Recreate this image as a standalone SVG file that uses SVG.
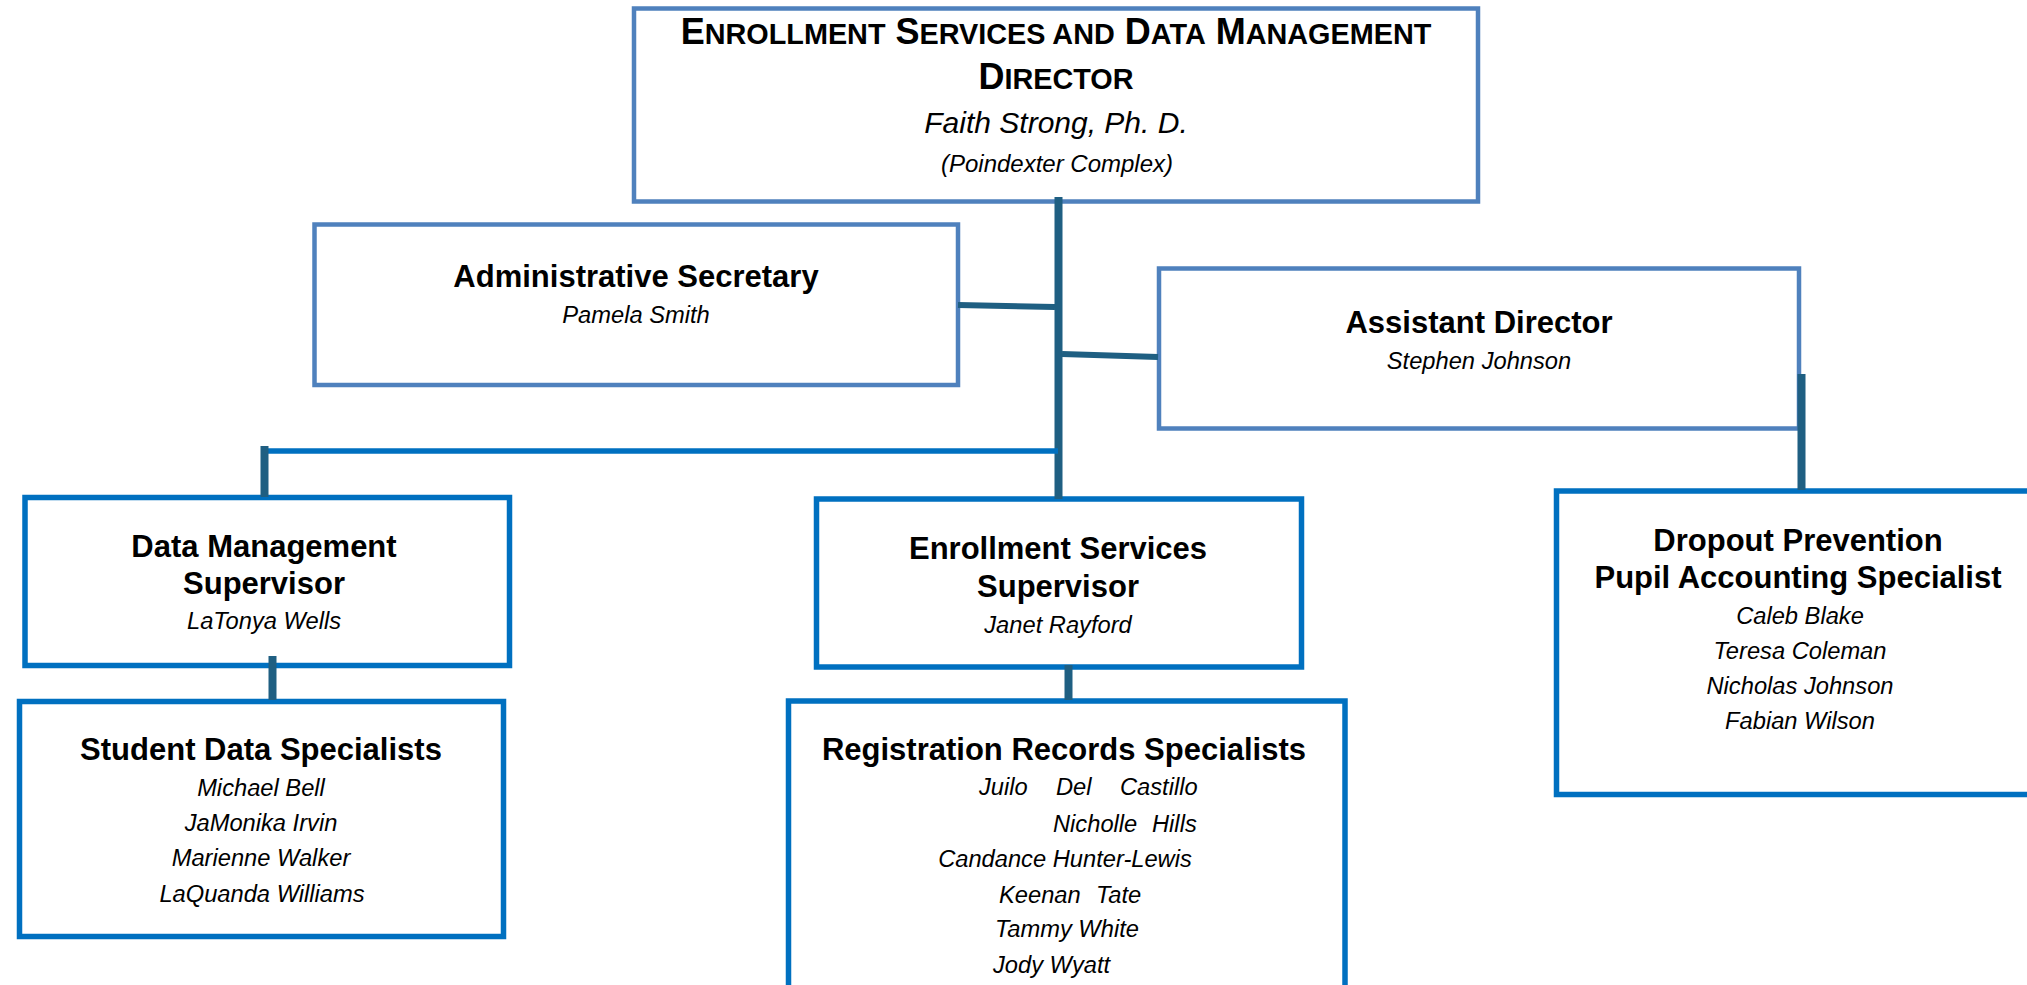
<svg xmlns="http://www.w3.org/2000/svg" width="2027" height="985" viewBox="0 0 2027 985">
<style>
 text{font-family:"Liberation Sans",Arial,sans-serif;fill:#000}
 .m{text-anchor:middle}
 .b{font-weight:bold;font-size:31px}
 .i{font-style:italic;font-size:23.7px}
 .top{fill:#fff;stroke:#4F81BD;stroke-width:4.5}
 .low{fill:#fff;stroke:#0070C0;stroke-width:5.5}
 .c{stroke:#1F5F82;stroke-width:8;fill:none}
 .cs{stroke:#1F5F82;stroke-width:6;fill:none}
 .cb{stroke:#0070C0;stroke-width:5.5;fill:none}
</style>
<rect width="2027" height="985" fill="#fff"/>

<g id="director">
 <rect class="top" x="634" y="8.5" width="844" height="193"/>
 <text class="m" x="1056" y="44" font-weight="bold" font-size="36">E<tspan font-size="28.8">NROLLMENT</tspan> S<tspan font-size="28.8">ERVICES AND</tspan> D<tspan font-size="28.8">ATA</tspan> M<tspan font-size="28.8">ANAGEMENT</tspan></text>
 <text class="m" x="1056" y="89" font-weight="bold" font-size="36">D<tspan font-size="28.8">IRECTOR</tspan></text>
 <text class="m" x="1056" y="132.7" font-style="italic" font-size="30">Faith Strong, Ph. D.</text>
 <text class="m" x="1057" y="171.7" font-style="italic" font-size="24">(Poindexter Complex)</text>
</g>

<g id="admin-secretary">
 <rect class="top" x="314.5" y="224.5" width="643.5" height="160.5"/>
 <text class="m b" x="636" y="287.3">Administrative Secretary</text>
 <text class="m i" x="636" y="323.3">Pamela Smith</text>
</g>

<g id="assistant-director">
 <rect class="top" x="1159" y="268.5" width="640" height="160"/>
 <text class="m b" x="1479" y="332.8">Assistant Director</text>
 <text class="m i" x="1479" y="368.5">Stephen Johnson</text>
</g>

<g id="data-management-supervisor">
 <rect class="low" x="25" y="497.5" width="484.5" height="168"/>
 <text class="m b" x="264" y="556.7">Data Management</text>
 <text class="m b" x="264" y="594">Supervisor</text>
 <text class="m i" x="264" y="629.3">LaTonya Wells</text>
</g>

<g id="enrollment-services-supervisor">
 <rect class="low" x="816.5" y="499" width="485" height="168"/>
 <text class="m b" x="1058" y="559">Enrollment Services</text>
 <text class="m b" x="1058" y="596.7">Supervisor</text>
 <text class="m i" x="1058" y="632.7">Janet Rayford</text>
</g>

<g id="dropout-prevention">
 <rect class="low" x="1556.5" y="491" width="500" height="303.5"/>
 <text class="m b" x="1798" y="551">Dropout Prevention</text>
 <text class="m b" x="1798" y="588.3">Pupil Accounting Specialist</text>
 <text class="m i" x="1800" y="624">Caleb Blake</text>
 <text class="m i" x="1800" y="659.3">Teresa Coleman</text>
 <text class="m i" x="1800" y="694">Nicholas Johnson</text>
 <text class="m i" x="1800" y="729.3">Fabian Wilson</text>
</g>

<g id="student-data-specialists">
 <rect class="low" x="19.5" y="701.5" width="484" height="235"/>
 <text class="m b" x="261" y="760">Student Data Specialists</text>
 <text class="m i" x="261" y="796">Michael Bell</text>
 <text class="m i" x="261" y="830.7">JaMonika Irvin</text>
 <text class="m i" x="261" y="866">Marienne Walker</text>
 <text class="m i" x="262" y="901.7">LaQuanda Williams</text>
</g>

<g id="registration-records-specialists">
 <rect class="low" x="788.5" y="701" width="556.5" height="300"/>
 <text class="m b" x="1064" y="760">Registration Records Specialists</text>
 <text class="i" y="795"><tspan x="979">Juilo</tspan><tspan x="1056">Del</tspan><tspan x="1120">Castillo</tspan></text>
 <text class="i" y="831.7"><tspan x="1053">Nicholle</tspan><tspan x="1152">Hills</tspan></text>
 <text class="m i" x="1065" y="866.7">Candance Hunter-Lewis</text>
 <text class="i" y="902.7"><tspan x="999">Keenan</tspan><tspan x="1096">Tate</tspan></text>
 <text class="i" x="995" y="937.3">Tammy White</text>
 <text class="i" x="993" y="972.7">Jody Wyatt</text>
</g>

<g id="connectors">
 <line class="c" x1="1058.5" y1="197" x2="1058.5" y2="499"/>
 <line class="cs" x1="958" y1="305" x2="1055" y2="307"/>
 <line class="cs" x1="1062" y1="354" x2="1158" y2="357"/>
 <line class="cb" x1="264" y1="451" x2="1058" y2="451"/>
 <line class="c" x1="264.5" y1="446" x2="264.5" y2="497"/>
 <line class="c" x1="272.5" y1="656" x2="272.5" y2="700"/>
 <line class="c" x1="1068.5" y1="665" x2="1068.5" y2="700"/>
 <line class="c" x1="1801.5" y1="374" x2="1801.5" y2="490"/>
</g>
</svg>
